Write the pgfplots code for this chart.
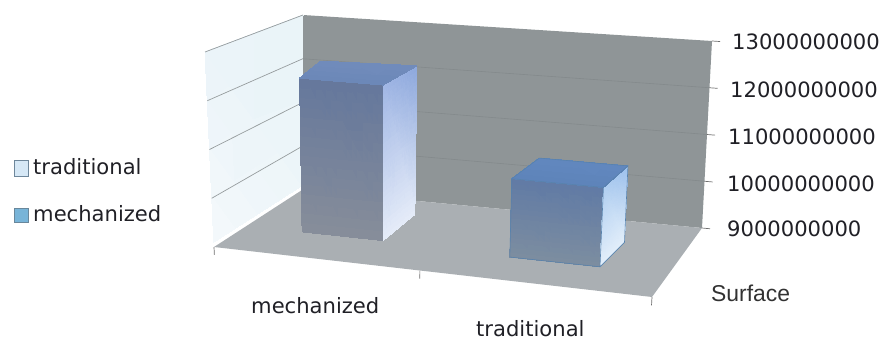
\documentclass[border=0pt]{standalone}
\usepackage{pgfplots}
\usepackage{pgfplotstable}
\usepackage{fontspec}
\pgfplotsset{compat=1.18}
\setmainfont{DejaVu Sans}
\newfontfamily\surfacefont{Liberation Sans}

% Bars: u runs along the category axis, v from front to back, val is the value.
\pgfplotstableread{
u v val c
0.131 0.37 9000000000 rgb255=134,141,154
0.322 0.37 9000000000 rgb255=134,141,154
0.322 0.37 12250000000 rgb255=100,119,156
0.131 0.37 12250000000 rgb255=100,119,156
0.322 0.37 9000000000 rgb255=228,235,248
0.320 0.80 9000000000 rgb255=228,235,248
0.320 0.80 12250000000 rgb255=140,167,220
0.322 0.37 12250000000 rgb255=160,182,228
0.131 0.37 12250000000 rgb255=108,136,184
0.322 0.37 12250000000 rgb255=108,136,184
0.320 0.80 12250000000 rgb255=114,140,188
0.100 0.75 12250000000 rgb255=114,140,188
}\mechanized
\pgfplotstableread{
u v val c
0.627 0.33 9000000000 rgb255=124,141,160
0.839 0.33 9000000000 rgb255=124,141,160
0.839 0.33 10600000000 rgb255=96,122,165
0.627 0.33 10600000000 rgb255=96,122,165
0.839 0.33 9000000000 rgb255=226,238,250
0.848 0.70 9000000000 rgb255=226,238,250
0.848 0.70 10600000000 rgb255=156,192,236
0.839 0.33 10600000000 rgb255=176,206,240
0.627 0.33 10600000000 rgb255=94,132,186
0.839 0.33 10600000000 rgb255=94,132,186
0.848 0.70 10600000000 rgb255=98,136,192
0.635 0.70 10600000000 rgb255=98,136,192
}\traditional

% Blue outline of the shorter bar
\pgfplotstableread{
u v val
0.627 0.33 9000000000
0.839 0.33 9000000000
0.839 0.33 10600000000
0.627 0.33 10600000000
0.627 0.33 9000000000
nan nan nan
0.839 0.33 10600000000
0.848 0.70 10600000000
0.635 0.70 10600000000
0.627 0.33 10600000000
nan nan nan
0.839 0.33 9000000000
0.848 0.70 9000000000
0.848 0.70 10600000000
}\traditionaledges

% Walls and floor of the chart box
\pgfplotstableread{
u v val
0 1 9000000000
1 1 9000000000
1 1 13000000000
0 1 13000000000
}\backwall
\pgfplotstableread{
u v val
0 0 9000000000
1 0 9000000000
1 1 9000000000
0 1 9000000000
}\floorplane
\pgfplotstableread{
u v val c
0 0 9100000000 rgb255=243,248,251
0 1 9100000000 rgb255=236,245,249
0 1 13000000000 rgb255=232,243,248
0 0 13000000000 rgb255=234,243,249
}\leftwall

% Gridlines, ticks (nan rows separate the segments)
\pgfplotstableread{
u v val
0 0 10000000000
0 1 10000000000
nan nan nan
0 0 11000000000
0 1 11000000000
nan nan nan
0 0 12000000000
0 1 12000000000
nan nan nan
0 0 13000000000
0 1 13000000000
}\leftgrid
\pgfplotstableread{
u v val
0 1 10000000000
1 1 10000000000
nan nan nan
0 1 11000000000
1 1 11000000000
nan nan nan
0 1 12000000000
1 1 12000000000
}\backgrid
\pgfplotstableread{
u v val
1 1 9000000000
1.02 1 9000000000
nan nan nan
1 1 10000000000
1.02 1 10000000000
nan nan nan
1 1 11000000000
1.02 1 11000000000
nan nan nan
1 1 12000000000
1.02 1 12000000000
nan nan nan
1 1 13000000000
1.02 1 13000000000
nan nan nan
0 0 9000000000
0 0 8840000000
nan nan nan
0.47 0 9000000000
0.47 0 8840000000
nan nan nan
1 0 9000000000
1 0 8840000000
}\ticksegments

\pgfplotsset{
  table/proj/.style={
    x expr={projx(\thisrow{u},\thisrow{v},\thisrow{val})},
    y expr={projy(\thisrow{u},\thisrow{v},\thisrow{val})},
  },
}

\begin{document}
\begin{tikzpicture}
\begin{axis}[
  x=1bp,y=1bp,
  xmin=0,xmax=882,ymin=0,ymax=341,
  y dir=reverse,
  hide axis,
  clip=false,
  unbounded coords=jump,
  declare function={
    level(\z)=(\z-9000000000)/4000000000;
    mix(\a,\b,\c,\d,\p,\q)=\a*(1-\p)*(1-\q)+\b*\p*(1-\q)+\c*\p*\q+\d*(1-\p)*\q;
    projx(\p,\q,\z)=(1-level(\z))*mix(214,652,702,302,\p,\q)+level(\z)*mix(205,664,712,303,\p,\q);
    projy(\p,\q,\z)=(1-level(\z))*mix(247,297,228,190,\p,\q)+level(\z)*mix(52,90,41,15,\p,\q);
  },
]
% page extent
\path (axis cs:0,0) rectangle (axis cs:882,341);

% box
\addplot[fill={rgb,255:red,143;green,149;blue,151},draw=none] table[proj] {\backwall} -- cycle;
\addplot[patch,patch type=rectangle,shader=interp,mesh/color input=explicit] table[proj,meta=c] {\leftwall};
\addplot[fill={rgb,255:red,170;green,175;blue,179},draw=none] table[proj] {\floorplane} -- cycle;

% gridlines on the left and back walls
\addplot[draw={rgb,255:red,150;green,156;blue,158},line width=0.7pt] table[proj] {\leftgrid};
\addplot[draw={rgb,255:red,132;green,138;blue,140},line width=0.6pt] table[proj] {\backgrid};

% value axis and category axis ticks
\addplot[draw={rgb,255:red,110;green,110;blue,110},line width=0.7pt] table[proj] {\ticksegments};

% bars
\addplot[patch,patch type=rectangle,shader=interp,mesh/color input=explicit] table[proj,meta=c] {\mechanized};
\addplot[patch,patch type=rectangle,shader=interp,mesh/color input=explicit] table[proj,meta=c] {\traditional};
\addplot[draw={rgb,255:red,88;green,130;blue,172},line width=0.6pt] table[proj] {\traditionaledges};

% labels
\begin{scope}[every node/.style={anchor=west,inner sep=0pt,text={rgb,255:red,32;green,32;blue,38},font=\fontsize{21.1bp}{24bp}\selectfont}]
\node at (axis cs:732,42) {13000000000};
\node at (axis cs:730,90) {12000000000};
\node at (axis cs:728,137) {11000000000};
\node at (axis cs:727,184) {10000000000};
\node at (axis cs:727,229) {9000000000};
\node at (axis cs:33,167) {traditional};
\node at (axis cs:33,214) {mechanized};
\node at (axis cs:251,306) {mechanized};
\node at (axis cs:476,329) {traditional};
\end{scope}
\node[anchor=west,inner sep=0pt,text={rgb,255:red,50;green,50;blue,50},font=\surfacefont\fontsize{22.9bp}{26bp}\selectfont] at (axis cs:711,293) {Surface};

% legend keys
\draw[draw={rgb,255:red,110;green,135;blue,155},line width=1pt,fill={rgb,255:red,214;green,232;blue,246}] (axis cs:14,160) rectangle (axis cs:28,176);
\draw[draw={rgb,255:red,105;green,135;blue,155},line width=1pt,fill={rgb,255:red,120;green,180;blue,216}] (axis cs:14,208) rectangle (axis cs:28,222);
\end{axis}
\end{tikzpicture}
\end{document}
